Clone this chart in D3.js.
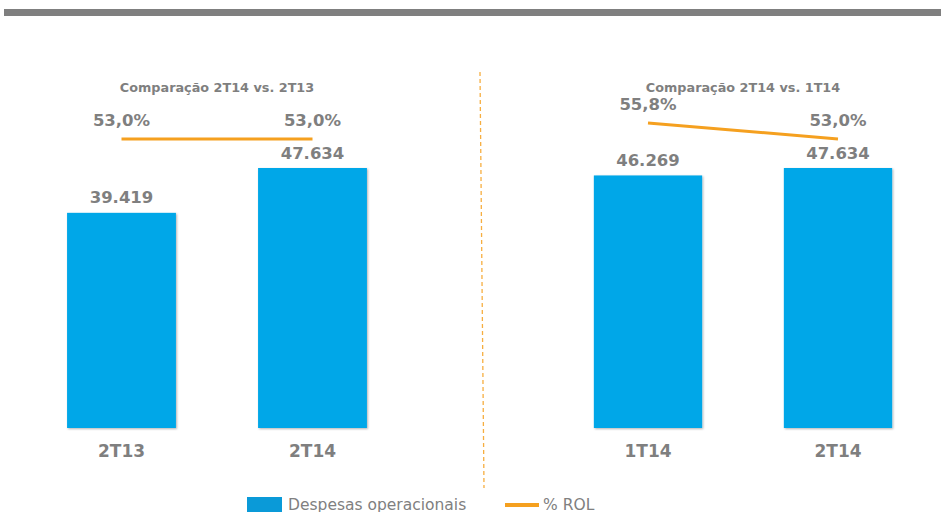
<!DOCTYPE html>
<html>
<head>
<meta charset="utf-8">
<script src="https://cdn.jsdelivr.net/npm/d3@7"></script>
<style>
  body { margin: 0; background: #fff; }
  svg { display: block; font-family: "DejaVu Sans", Verdana, sans-serif; }
</style>
</head>
<body>
<div id="chart"></div>
<script>
// dados
const titles = ["Comparação 2T14 vs. 2T13", "Comparação 2T14 vs. 1T14"];
const categories = [["2T13", "2T14"], ["1T14", "2T14"]];
const despesas = [[39419, 47634], [46269, 47634]];
const rol = [[53.0, 53.0], [55.8, 53.0]];
const legendLabels = ["Despesas operacionais", "% ROL"];

const W = 941, H = 512;
const blue = "#05A7E8", orange = "#F5A01F", grey = "#7F7F7F";
const baseY = 428;

const svg = d3.select("#chart").append("svg")
    .attr("width", W).attr("height", H);

const defs = svg.append("defs");
defs.append("filter").attr("id", "shadow")
    .attr("x", "-5%").attr("y", "-5%").attr("width", "115%").attr("height", "115%")
    .append("feDropShadow")
    .attr("dx", 1).attr("dy", 1).attr("stdDeviation", 0.8)
    .attr("flood-color", "#000").attr("flood-opacity", 0.3);

// faixa cinza no topo
svg.append("rect")
    .attr("x", 4).attr("y", 9).attr("width", W - 4).attr("height", 7)
    .attr("fill", "#7F7F7F");

// escalas
const y = d3.scaleLinear().domain([0, 47634]).range([baseY, 168]);
const y2 = d3.scaleLinear().domain([50, 60]).range([156, 99]);
const ranges = [[26, 408], [553, 933]];

categories.forEach((cats, p) => {
    const x = d3.scaleBand().domain(cats).range(ranges[p])
        .paddingInner(0.43).paddingOuter(0.215);
    const g = svg.append("g");
    const cx = d => x(d) + x.bandwidth() / 2;

    // barras
    g.selectAll("rect.bar")
        .data(cats)
        .enter()
        .append("rect")
        .attr("class", "bar")
        .attr("x", d => x(d))
        .attr("y", (d, i) => y(despesas[p][i]))
        .attr("width", x.bandwidth())
        .attr("height", (d, i) => baseY - y(despesas[p][i]))
        .attr("fill", blue)
        .attr("filter", "url(#shadow)");

    // valores das barras
    g.selectAll("text.val")
        .data(cats)
        .enter()
        .append("text")
        .attr("x", d => cx(d))
        .attr("y", (d, i) => y(despesas[p][i]) - 9.5)
        .attr("text-anchor", "middle")
        .attr("font-size", "16.5px")
        .attr("font-weight", "bold")
        .attr("fill", grey)
        .text((d, i) => d3.format(",")(despesas[p][i]).replace(/,/g, "."));

    // rótulos das categorias
    g.selectAll("text.cat")
        .data(cats)
        .enter()
        .append("text")
        .attr("x", d => cx(d))
        .attr("y", 457)
        .attr("text-anchor", "middle")
        .attr("font-size", "17px")
        .attr("font-weight", "bold")
        .attr("fill", grey)
        .text(d => d);

    // linha % ROL
    const line = d3.line()
        .x(d => cx(d))
        .y((d, i) => y2(rol[p][i]));
    g.append("path")
        .datum(cats)
        .attr("d", line)
        .attr("fill", "none")
        .attr("stroke", orange)
        .attr("stroke-width", 3);

    g.selectAll("text.pct")
        .data(cats)
        .enter()
        .append("text")
        .attr("x", d => cx(d))
        .attr("y", (d, i) => y2(rol[p][i]) - 12.5)
        .attr("text-anchor", "middle")
        .attr("font-size", "16.5px")
        .attr("font-weight", "bold")
        .attr("fill", grey)
        .text((d, i) => rol[p][i].toFixed(1).replace(".", ",") + "%");

    // título
    g.append("text")
        .attr("x", (ranges[p][0] + ranges[p][1]) / 2 + 0)
        .attr("y", 92)
        .attr("text-anchor", "middle")
        .attr("font-size", "12.8px")
        .attr("font-weight", "bold")
        .attr("fill", grey)
        .text(titles[p]);
});

// divisória tracejada
svg.append("line")
    .attr("x1", 480).attr("y1", 72).attr("x2", 484).attr("y2", 488)
    .attr("stroke", orange).attr("stroke-width", 1.3)
    .attr("stroke-dasharray", "4,3").attr("opacity", 0.85);

// legenda
const leg = svg.append("g");
leg.append("rect")
    .attr("x", 247).attr("y", 497).attr("width", 35).attr("height", 20)
    .attr("fill", "#0A9AD8");
leg.append("text")
    .attr("x", 288).attr("y", 509.5)
    .attr("font-size", "15.5px")
    .attr("fill", "#808080")
    .text(legendLabels[0]);
leg.append("line")
    .attr("x1", 505).attr("x2", 539).attr("y1", 505).attr("y2", 505)
    .attr("stroke", orange).attr("stroke-width", 4);
leg.append("text")
    .attr("x", 543).attr("y", 509.5)
    .attr("font-size", "15.5px")
    .attr("fill", "#808080")
    .text(legendLabels[1]);
</script>
</body>
</html>
